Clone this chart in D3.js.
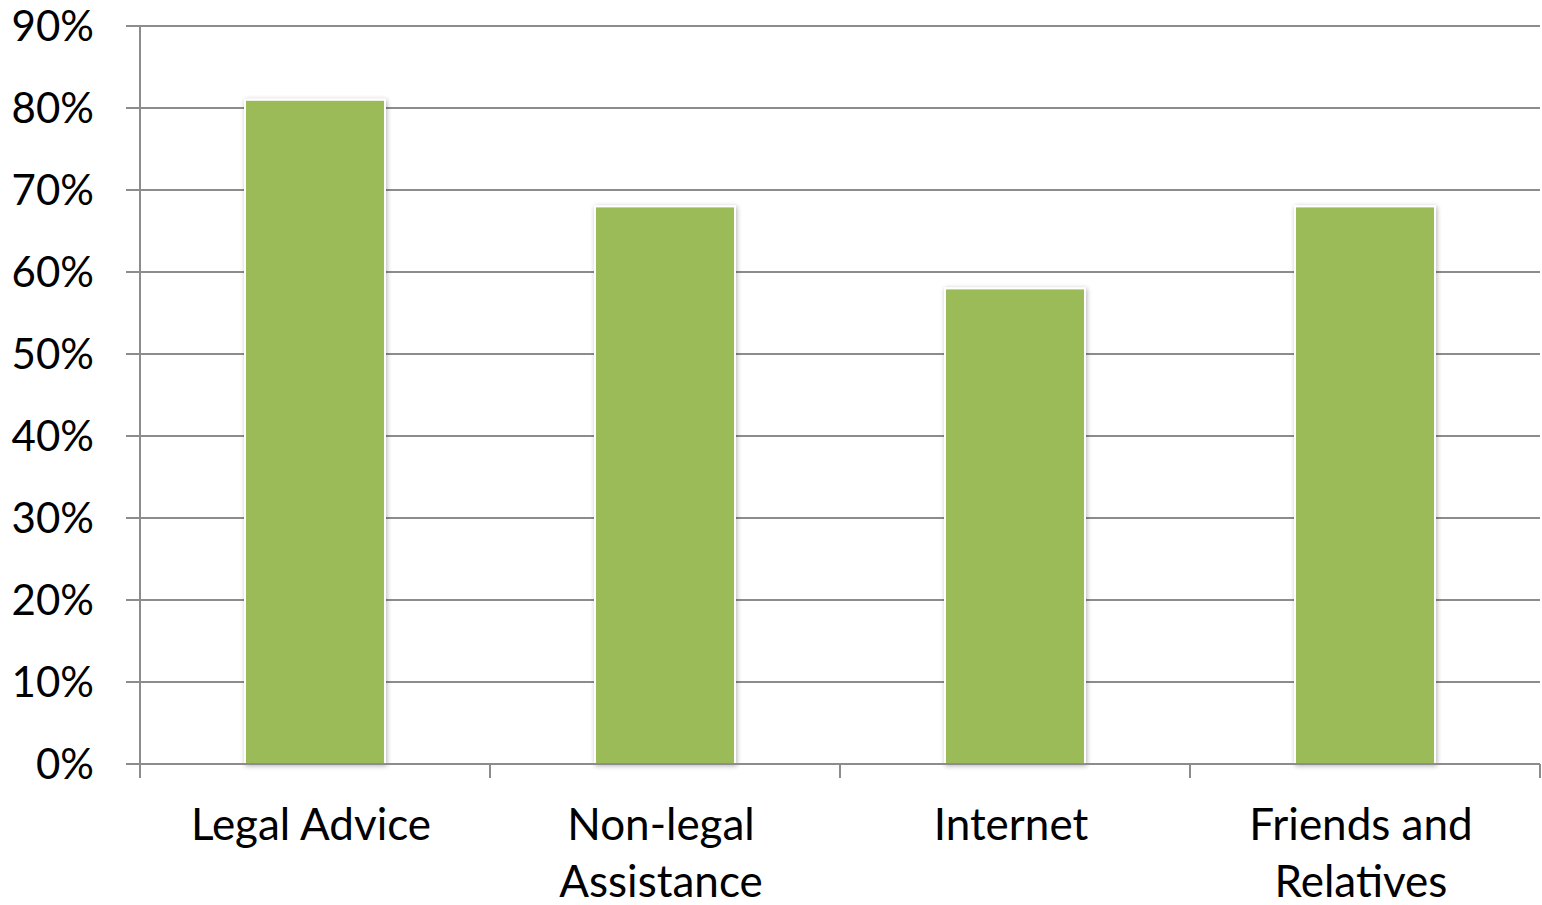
<!DOCTYPE html>
<html>
<head>
<meta charset="utf-8">
<script src="https://cdn.jsdelivr.net/npm/d3@7"></script>
<style>
  html, body { margin: 0; padding: 0; background: #fff; }
  svg { display: block; font-family: Lato, "Open Sans", sans-serif; }
</style>
</head>
<body>
<svg id="chart" width="1542" height="905"></svg>
<script>
// chart data
const categories = ['Legal Advice', 'Non-legal Assistance', 'Internet', 'Friends and Relatives'];
const labelLines = [['Legal Advice'], ['Non-legal', 'Assistance'], ['Internet'], ['Friends and', 'Relatives']];
const values = [0.81, 0.68, 0.58, 0.68];
const yTicks = [0, 0.1, 0.2, 0.3, 0.4, 0.5, 0.6, 0.7, 0.8, 0.9];

const svg = d3.select('#chart');
const margin = { top: 26, right: 2, bottom: 141, left: 140 };
const width = 1542 - margin.left - margin.right;
const height = 905 - margin.top - margin.bottom;

const g = svg.append('g').attr('transform', `translate(${margin.left},${margin.top})`);

const xScale = d3.scaleBand().domain(categories).range([0, width]).paddingInner(0.6).paddingOuter(0.3);
const xBand = d3.scaleBand().domain(categories).range([0, width]);
const yScale = d3.scaleLinear().domain([0, 0.9]).range([height, 0]);

const gridColor = '#8c8c8c';

// Gridlines with left tick marks
g.append('g')
    .selectAll('line')
    .data(yTicks)
    .enter()
    .append('line')
    .attr('x1', -14)
    .attr('x2', width)
    .attr('y1', d => yScale(d))
    .attr('y2', d => yScale(d))
    .attr('stroke', gridColor)
    .attr('stroke-width', 2);

// Y labels
g.append('g')
    .selectAll('text')
    .data(yTicks)
    .enter()
    .append('text')
    .attr('x', -46)
    .attr('y', d => yScale(d))
    .attr('dy', '0.36em')
    .attr('text-anchor', 'end')
    .attr('font-size', '42px')
    .attr('fill', '#000')
    .text(d => d3.format('.0%')(d));

// Shadow filter
const defs = svg.append('defs');
const filter = defs.append('filter').attr('id', 'shadow').attr('x', '-10%').attr('y', '-10%').attr('width', '120%').attr('height', '120%');
filter.append('feGaussianBlur').attr('in', 'SourceAlpha').attr('stdDeviation', 2.5);
filter.append('feOffset').attr('dx', 1).attr('dy', 1).attr('result', 'blur');
filter.append('feComponentTransfer').append('feFuncA').attr('type', 'linear').attr('slope', 0.3);
const merge = filter.append('feMerge');
merge.append('feMergeNode');
merge.append('feMergeNode').attr('in', 'SourceGraphic');

// Bars
g.append('g')
    .selectAll('rect')
    .data(values)
    .enter()
    .append('rect')
    .attr('x', (d, i) => xScale(categories[i]))
    .attr('width', xScale.bandwidth())
    .attr('y', d => yScale(d))
    .attr('height', d => height - yScale(d))
    .attr('fill', '#9bbb59')
    .attr('stroke', '#fff')
    .attr('stroke-width', 2)
    .attr('filter', 'url(#shadow)');

// Axes lines
g.append('line')
    .attr('x1', 0).attr('x2', 0)
    .attr('y1', 0).attr('y2', height + 14)
    .attr('stroke', gridColor).attr('stroke-width', 2);

g.append('line')
    .attr('x1', -14).attr('x2', width)
    .attr('y1', height).attr('y2', height)
    .attr('stroke', gridColor).attr('stroke-width', 2);

// x tick marks at band boundaries
const boundaries = categories.map(c => xBand(c)).concat([width]);
g.append('g')
    .selectAll('line')
    .data(boundaries)
    .enter()
    .append('line')
    .attr('x1', d => d).attr('x2', d => d)
    .attr('y1', height).attr('y2', height + 14)
    .attr('stroke', gridColor).attr('stroke-width', 2);

// X labels (Excel centres them a few px left of the band centre)
const labelX = d => xBand(d) + xBand.bandwidth() / 2 - 4;
const xLabels = g.append('g')
    .selectAll('text')
    .data(categories)
    .enter()
    .append('text')
    .attr('x', labelX)
    .attr('y', height + 76)
    .attr('text-anchor', 'middle')
    .attr('font-size', '44px')
    .attr('fill', '#000');

xLabels.each(function(d, i) {
    const t = d3.select(this);
    labelLines[i].forEach((line, j) => {
        t.append('tspan')
            .attr('x', labelX(d))
            .attr('dy', j === 0 ? 0 : 57)
            .text(line);
    });
});
</script>
</body>
</html>
